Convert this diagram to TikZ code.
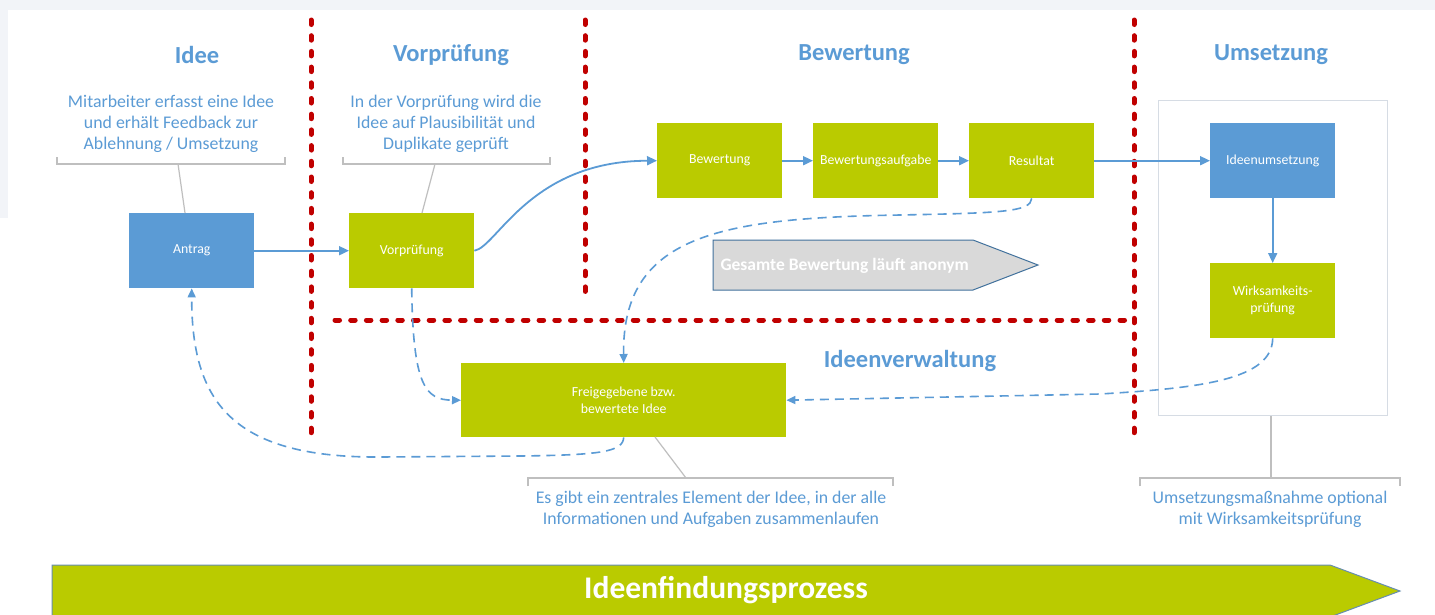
\documentclass[tikz,border=0pt]{standalone}
\usepackage{fontspec}
\setmainfont{Carlito}
\usetikzlibrary{arrows.meta}
\definecolor{gblue}{HTML}{5B9BD5}
\definecolor{ggreen}{HTML}{BACB00}
\definecolor{redd}{HTML}{C00000}
\definecolor{brgray}{HTML}{BFBFBF}
\definecolor{argray}{HTML}{D9D9D9}
\definecolor{bdblue}{HTML}{41719C}
\definecolor{bggray}{HTML}{F2F4F8}
\definecolor{contgray}{HTML}{D6DCE4}
\begin{document}
\begin{tikzpicture}[x=1pt,y=-1pt,
  box/.style={minimum width=125pt, minimum height=75pt, inner sep=0pt, anchor=north west,
    font=\fontsize{13.8}{17}\selectfont, text=white, align=center},
  bluebox/.style={box, fill=gblue},
  greenbox/.style={box, fill=ggreen},
  titletext/.style={font=\bfseries\fontsize{24.5}{28}\selectfont, text=gblue},
  desc/.style={font=\fontsize{17.8}{21}\selectfont, text=gblue, align=center},
  bracket/.style={draw=brgray, line width=1.2pt},
  reddot/.style={draw=redd, line width=5pt, line cap=round, dash pattern=on 4.5pt off 11.2pt},
  conn/.style={draw=gblue, line width=1.8pt, -{Triangle[length=10pt,width=9pt]}},
  dconn/.style={draw=gblue, line width=1.6pt, dash pattern=on 9pt off 6pt, -{Triangle[length=9pt,width=8pt]}}
]
\useasboundingbox (0,0) rectangle (1435,614);
\fill[white] (0,0) rectangle (1435,614);
\fill[bggray] (0,0) rectangle (1435,10);
\fill[bggray] (0,0) rectangle (8,218);

% titles
\node[titletext] (tIdee) at (197,55) {Idee};
\node[titletext] (tVor) at (451,55) {Vorprüfung};
\node[titletext] (tBew) at (854,55) {Bewertung};
\node[titletext] (tUms) at (1271,55) {Umsetzung};
\node[titletext] (tVerw) at (910,361) {Ideenverwaltung};

% descriptions
\node[desc] (dIdee) at (171,124) {Mitarbeiter erfasst eine Idee\\und erhält Feedback zur\\Ablehnung / Umsetzung};
\node[desc] (dVor) at (446,124) {In der Vorprüfung wird die\\Idee auf Plausibilität und\\Duplikate geprüft};
\node[desc] (dFrei) at (711,509) {Es gibt ein zentrales Element der Idee, in der alle\\Informationen und Aufgaben zusammenlaufen};
\node[desc] (dUms) at (1270,509) {Umsetzungsmaßnahme optional\\mit Wirksamkeitsprüfung};

% container
\node[draw=contgray, line width=1pt, fill=white, minimum width=229pt, minimum height=315pt,
  inner sep=0pt, anchor=north west] (cont) at (1158,100) {};

% red dotted separators
\coordinate (v1a) at (311,20); \coordinate (v1b) at (311,435);
\coordinate (v2a) at (585,20); \coordinate (v2b) at (585,297);
\coordinate (v3a) at (1134,20); \coordinate (v3b) at (1134,437);
\coordinate (ha) at (335,320); \coordinate (hb) at (1125,320);
\draw[reddot] (v1a) -- (v1b);
\draw[reddot] (v2a) -- (v2b);
\draw[reddot] (v3a) -- (v3b);
\draw[reddot] (ha) -- (hb);

% boxes
\node[bluebox] (antrag) at (129,213) {Antrag};
\node[greenbox] (vorp) at (349,213) {Vorprüfung};
\node[greenbox] (bew) at (657,123) {Bewertung};
\node[greenbox] (bewa) at (813,123) {Bewertungsaufgabe};
\node[greenbox] (res) at (969,123) {Resultat};
\node[bluebox] (umset) at (1210,123) {Ideenumsetzung};
\node[greenbox] (wirk) at (1210,263) {Wirksamkeits-\\prüfung};
\node[greenbox, minimum width=325pt, minimum height=74pt] (frei) at (461,363) {Freigegebene bzw.\\bewertete Idee};

% brackets
\coordinate (b1l) at (57,157); \coordinate (b1r) at (285,157);
\coordinate (b1m) at (178,164); \coordinate (b1e) at (185,213);
\draw[bracket] (b1l) -- ++(0,7) -- ++(228,0) -- (b1r);
\draw[bracket] (b1m) -- (b1e);
\coordinate (b2l) at (343,157); \coordinate (b2r) at (550,157);
\coordinate (b2m) at (435,164); \coordinate (b2e) at (422,213);
\draw[bracket] (b2l) -- ++(0,7) -- ++(207,0) -- (b2r);
\draw[bracket] (b2m) -- (b2e);
\coordinate (b3l) at (528,486); \coordinate (b3r) at (893,486);
\coordinate (b3m) at (686,478); \coordinate (b3s) at (655,437);
\draw[bracket] (b3l) -- ++(0,-8) -- ++(365,0) -- (b3r);
\draw[bracket] (b3s) -- (b3m);
\coordinate (b4l) at (1140,486); \coordinate (b4r) at (1400,486);
\coordinate (b4m) at (1271,478);
\draw[bracket] (b4l) -- ++(0,-8) -- ++(260,0) -- (b4r);
\draw[bracket] (cont.south -| b4m) -- (b4m);

% anonymous arrow
\draw[fill=argray, draw=bdblue, line width=1pt] (713,240) -- (973,240) -- (1038,265) -- (973,290) -- (713,290) -- cycle;
\node[anchor=west, font=\bfseries\fontsize{17.5}{20}\selectfont, text=white] (anon) at (717,266) {Gesamte Bewertung läuft anonym};

% big process arrow
\draw[fill=ggreen, draw=bdblue!80, line width=1pt] (52,565) -- (1330,565) -- (1400,591) -- (1330,617) -- (52,617) -- cycle;
\node[font=\bfseries\fontsize{31.5}{35}\selectfont, text=white] (proc) at (726,590) {Ideenfindungsprozess};

% connectors
\draw[conn] (antrag) -- (vorp);
\draw[conn] (vorp.east) .. controls (497,247) and (530,161) .. (bew.west);
\draw[conn] (bew) -- (bewa);
\draw[conn] (bewa) -- (res);
\draw[conn] (res) -- (umset);
\draw[conn] (umset) -- (wirk);

\draw[dconn] (res.south) .. controls (1031,212) and (1000,213) .. (900,215)
  .. controls (720,218) and (622,235) .. (frei.north);
\draw[dconn] (vorp.south) .. controls (413,385) and (425,400) .. (frei.west);
\draw[dconn] (frei.south) .. controls (623,452) and (600,455) .. (520,456) -- (380,457)
  .. controls (230,458) and (191.5,400) .. (antrag.south);
\draw[dconn] (wirk.south) .. controls (1272,380) and (1200,388) .. (1100,394) -- (frei.east);
\end{tikzpicture}
\end{document}
